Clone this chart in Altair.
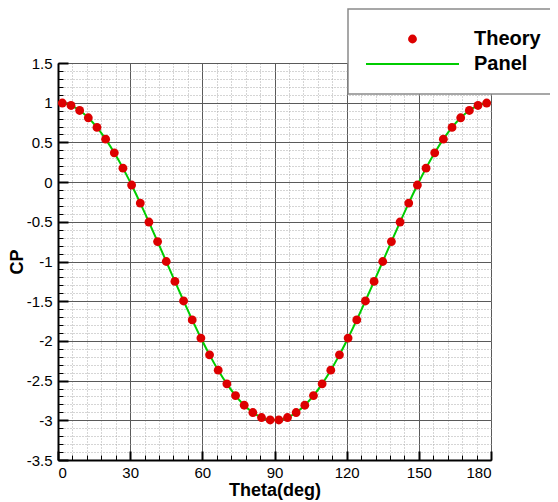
import altair as alt
import pandas as pd

# Theory points (Theta in degrees, CP)
theta = [1.8, 5.4, 9.0, 12.6, 16.2, 19.8, 23.4, 27.0, 30.6, 34.2,
         37.8, 41.4, 45.0, 48.6, 52.2, 55.8, 59.4, 63.0, 66.6, 70.2,
         73.8, 77.4, 81.0, 84.6, 88.2, 91.8, 95.4, 99.0, 102.6, 106.2,
         109.8, 113.4, 117.0, 120.6, 124.2, 127.8, 131.4, 135.0, 138.6, 142.2,
         145.8, 149.4, 153.0, 156.6, 160.2, 163.8, 167.4, 171.0, 174.6, 178.2]
cp_theory = [0.996, 0.965, 0.902, 0.810, 0.689, 0.541, 0.369, 0.176, -0.037, -0.264,
             -0.503, -0.749, -1.000, -1.251, -1.497, -1.736, -1.964, -2.176, -2.369, -2.541,
             -2.689, -2.810, -2.902, -2.965, -2.996, -2.996, -2.965, -2.902, -2.810, -2.689,
             -2.541, -2.369, -2.176, -1.964, -1.736, -1.497, -1.251, -1.000, -0.749, -0.503,
             -0.264, -0.037, 0.176, 0.369, 0.541, 0.689, 0.810, 0.902, 0.965, 0.996]

# Panel solution line
panel_theta = [0.0] + theta + [180.0]
panel_cp = [1.0] + cp_theory + [1.0]

series_names = ["Theory", "Panel"]
series_colors = ["#dd0000", "#00cc00"]

x_major = [0, 30, 60, 90, 120, 150, 180]
y_major = [-3.5, -3.0, -2.5, -2.0, -1.5, -1.0, -0.5, 0.0, 0.5, 1.0, 1.5]
x_minor = list(range(0, 181, 6))
y_minor = [round(-3.5 + 0.1 * i, 1) for i in range(51)]

df_pts = pd.DataFrame({"theta": theta, "cp": cp_theory, "series": "Theory"})
df_line = pd.DataFrame({"theta": panel_theta, "cp": panel_cp})

xs = alt.Scale(domain=[0, 180], nice=False, zero=False)
ys = alt.Scale(domain=[-3.5, 1.5], nice=False, zero=False)

FONT = "Liberation Sans"


def carrier(xaxis, yaxis):
    return alt.Chart(df_pts).mark_point(opacity=0).encode(
        x=alt.X("theta:Q", scale=xs, axis=xaxis),
        y=alt.Y("cp:Q", scale=ys, axis=yaxis),
    )


def plain(orient, values, **kw):
    base = dict(orient=orient, values=values, labels=False, domain=False,
                ticks=False, grid=False, title=None)
    base.update(kw)
    return alt.Axis(**base)


minor_grid = carrier(
    plain("bottom", x_minor, grid=True, gridColor="#aaaaaa", gridDash=[1, 2], gridWidth=1),
    plain("left", y_minor, grid=True, gridColor="#aaaaaa", gridDash=[1, 2], gridWidth=1),
)
major_grid = carrier(
    plain("bottom", x_major, grid=True, gridColor="#5a5a5a", gridWidth=1),
    plain("left", y_major, grid=True, gridColor="#5a5a5a", gridWidth=1),
)
main_axes = carrier(
    alt.Axis(orient="bottom", values=x_major, title="Theta(deg)", grid=False, ticks=False,
             domain=True, domainColor="black", domainWidth=2,
             labelExpr="'' + datum.value", labelFont=FONT, labelFontSize=15,
             labelColor="black", labelPadding=5, titleFont=FONT, titleFontSize=18,
             titleFontWeight="bold", titleColor="black", titlePadding=1),
    alt.Axis(orient="left", values=y_major, title="CP", grid=False, ticks=False,
             domain=True, domainColor="black", domainWidth=2,
             labelExpr="'' + datum.value", labelFont=FONT, labelFontSize=15,
             labelColor="black", labelPadding=6, titleFont=FONT, titleFontSize=18,
             titleFontWeight="bold", titleColor="black", titlePadding=0),
)
major_ticks = carrier(
    plain("bottom", x_major, ticks=True, offset=-9, tickSize=9, tickWidth=2, tickColor="black"),
    plain("left", y_major, ticks=True, offset=-10, tickSize=10, tickWidth=2, tickColor="black"),
)
minor_ticks = carrier(
    plain("bottom", x_minor, ticks=True, offset=-5, tickSize=5, tickWidth=1, tickColor="black"),
    plain("left", y_minor, ticks=True, offset=-5, tickSize=5, tickWidth=1, tickColor="black"),
)

line = alt.Chart(df_line).mark_line(color=series_colors[1], strokeWidth=2, interpolate="monotone").encode(
    x=alt.X("theta:Q", scale=xs, axis=None),
    y=alt.Y("cp:Q", scale=ys, axis=None),
)

legend = alt.Legend(title=None, orient="none", legendX=290, legendY=-54,
                    fillColor="white", strokeColor="#8a8a8a", padding=18,
                    clipHeight=24, rowPadding=1, labelOffset=15,
                    labelFont=FONT, labelFontSize=20, labelFontWeight="bold",
                    labelColor="black", symbolStrokeWidth=0, symbolOpacity=1)

points = alt.Chart(df_pts).mark_point(filled=True, opacity=1, strokeWidth=0).encode(
    x=alt.X("theta:Q", scale=xs, axis=None),
    y=alt.Y("cp:Q", scale=ys, axis=None),
    color=alt.Color("series:N", scale=alt.Scale(domain=series_names, range=series_colors), legend=legend),
    shape=alt.Shape("series:N", scale=alt.Scale(domain=series_names,
                                                 range=["circle", "M-1,-0.022H1V0.022H-1Z"]), legend=legend),
    size=alt.Size("series:N", scale=alt.Scale(type="ordinal", domain=series_names, range=[78, 8649]), legend=legend),
)

chart = alt.layer(minor_grid, major_grid, line, points, main_axes, major_ticks, minor_ticks).resolve_axis(
    x="independent", y="independent"
).properties(
    width=433, height=397,
    autosize=alt.AutoSizeParams(type="none"),
    padding={"left": 50, "top": 55, "right": 59, "bottom": 40},
).configure_view(stroke=None).configure_legend(strokeWidth=1.5)

chart.save("out.html", embed_options={"renderer": "svg", "actions": False})
